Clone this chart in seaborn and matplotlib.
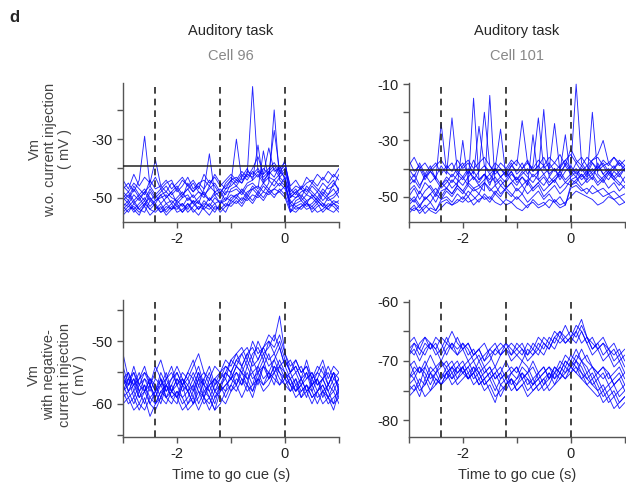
import numpy as np
import pandas as pd
import matplotlib
matplotlib.use("Agg")
import matplotlib.pyplot as plt
import seaborn as sns

sns.set_style("ticks")
plt.rcParams['font.family'] = ['Liberation Sans', 'DejaVu Sans']
plt.rcParams['axes.unicode_minus'] = False

# time axis of every trace (s, relative to go cue)
time = np.round(np.linspace(-3.0, 1.0, 41), 2)
events = [-2.4, -1.2, 0.0]

# Cell 96, no current injection (mV)
cell96_free = [
    [-52, -53, -51, -54, -52, -50, -53, -54, -52, -51,
     -53, -52, -54, -51, -52, -53, -50, -52, -51, -53,
     -50, -49, -51, -48, -47, -49, -46, -48, -47, -45,
     -47, -53, -52, -51, -53, -52, -50, -52, -53, -51, -52],
    [-47, -45, -48, -44, -29, -46, -43, -47, -45, -44,
     -48, -46, -43, -47, -45, -44, -46, -42, -45, -47,
     -44, -43, -45, -41, -42, -40, -43, -41, -39, -42,
     -40, -48, -46, -47, -45, -44, -46, -43, -45, -42, -44],
    [-50, -48, -51, -49, -47, -50, -52, -49, -48, -50,
     -51, -49, -47, -50, -48, -49, -51, -48, -50, -47,
     -46, -44, -45, -42, -12, -41, -44, -42, -40, -43,
     -41, -49, -50, -48, -47, -49, -51, -48, -50, -49, -47],
    [-54, -52, -55, -53, -51, -54, -52, -55, -53, -54,
     -52, -55, -53, -51, -54, -52, -53, -55, -52, -50,
     -51, -49, -48, -50, -47, -46, -48, -45, -20, -44,
     -46, -51, -53, -52, -54, -53, -51, -53, -54, -52, -53],
    [-49, -51, -47, -50, -48, -46, -49, -47, -50, -48,
     -46, -49, -47, -45, -48, -50, -46, -48, -47, -49,
     -45, -30, -44, -42, -43, -41, -42, -33, -41, -40,
     -38, -47, -49, -46, -48, -45, -47, -49, -46, -44, -48],
    [-55, -53, -54, -56, -52, -54, -55, -53, -56, -54,
     -53, -55, -52, -54, -56, -53, -54, -52, -55, -53,
     -52, -50, -52, -49, -51, -48, -50, -47, -49, -48,
     -46, -52, -54, -53, -51, -55, -53, -52, -54, -55, -53],
    [-51, -49, -52, -50, -53, -48, -51, -50, -49, -52,
     -50, -48, -51, -49, -52, -47, -35, -49, -48, -51,
     -47, -46, -48, -45, -44, -32, -45, -43, -44, -42,
     -37, -50, -48, -51, -49, -50, -48, -51, -49, -47, -50],
    [-46, -48, -45, -47, -49, -44, -47, -46, -48, -45,
     -47, -44, -46, -48, -45, -47, -44, -46, -49, -45,
     -43, -45, -42, -44, -41, -43, -40, -42, -27, -41,
     -43, -50, -48, -47, -49, -46, -48, -45, -47, -46, -42],
    [-53, -51, -54, -52, -50, -53, -51, -49, -52, -54,
     -51, -53, -50, -52, -54, -51, -53, -50, -52, -51,
     -49, -50, -47, -49, -46, -48, -45, -47, -44, -46,
     -43, -55, -51, -50, -52, -49, -51, -53, -50, -52, -51],
    [-44, -47, -42, -46, -43, -45, -37, -46, -44, -47,
     -45, -43, -46, -44, -47, -42, -45, -43, -46, -44,
     -42, -44, -41, -43, -40, -36, -42, -40, -38, -41,
     -39, -46, -44, -47, -43, -45, -42, -44, -41, -43, -40],
    [-56, -54, -53, -55, -53, -56, -54, -52, -55, -53,
     -54, -52, -55, -53, -51, -54, -56, -53, -54, -52,
     -53, -51, -53, -50, -52, -49, -51, -48, -50, -47,
     -49, -54, -55, -53, -52, -54, -52, -55, -53, -52, -54],
    [-50, -52, -49, -51, -48, -51, -49, -52, -50, -48,
     -52, -50, -49, -52, -50, -48, -51, -49, -52, -48,
     -48, -47, -49, -46, -45, -47, -34, -44, -46, -43,
     -45, -52, -50, -49, -51, -50, -52, -49, -51, -50, -48],
    [-48, -50, -46, -49, -51, -47, -50, -48, -46, -49,
     -47, -50, -45, -48, -46, -49, -47, -45, -48, -46,
     -44, -46, -43, -40, -44, -42, -45, -41, -43, -39,
     -44, -49, -47, -50, -46, -48, -50, -47, -49, -45, -47],
    [-53, -55, -52, -54, -55, -51, -53, -55, -54, -52,
     -55, -54, -52, -55, -53, -54, -52, -54, -53, -55,
     -51, -52, -50, -51, -49, -50, -48, -49, -47, -48,
     -50, -55, -53, -54, -52, -53, -55, -54, -52, -53, -55],
]

# Cell 101, no current injection (mV)
cell101_free = [
    [-54, -55, -53, -56, -54, -55, -52, -51, -53, -52,
     -50, -52, -51, -49, -51, -50, -52, -53, -51, -52,
     -50, -52, -54, -51, -53, -52, -54, -51, -53, -52,
     -50, -48, -49, -50, -51, -53, -52, -50, -51, -53, -52],
    [-40, -43, -38, -42, -39, -44, -24, -41, -43, -40,
     -38, -42, -37, -41, -20, -39, -42, -40, -43, -39,
     -41, -38, -42, -39, -22, -40, -38, -41, -39, -37,
     -40, -10, -38, -41, -37, -36, -39, -38, -40, -37, -39],
    [-48, -46, -49, -45, -47, -50, -46, -44, -47, -45,
     -43, -46, -15, -44, -42, -45, -43, -46, -44, -41,
     -45, -43, -46, -28, -44, -42, -45, -43, -41, -44,
     -42, -40, -43, -41, -44, -38, -42, -40, -43, -41, -39],
    [-52, -50, -53, -51, -49, -52, -48, -47, -49, -46,
     -48, -45, -47, -46, -48, -14, -46, -44, -47, -45,
     -43, -46, -44, -47, -45, -43, -46, -44, -42, -45,
     -43, -41, -44, -42, -40, -43, -45, -42, -44, -46, -43],
    [-45, -42, -46, -43, -41, -44, -47, -45, -42, -44,
     -46, -43, -41, -44, -42, -46, -40, -43, -45, -42,
     -44, -41, -43, -45, -42, -19, -43, -40, -44, -41,
     -39, -42, -40, -43, -41, -39, -42, -44, -41, -43, -40],
    [-56, -54, -55, -53, -55, -56, -54, -52, -53, -51,
     -52, -50, -53, -51, -50, -52, -49, -51, -53, -52,
     -54, -55, -53, -52, -54, -53, -51, -52, -54, -53,
     -47, -46, -48, -47, -49, -48, -50, -49, -51, -50, -52],
    [-50, -47, -51, -48, -46, -49, -45, -47, -44, -46,
     -30, -45, -43, -46, -44, -42, -45, -43, -41, -44,
     -46, -43, -45, -42, -44, -46, -43, -45, -41, -28,
     -44, -45, -42, -44, -20, -42, -44, -41, -43, -45, -47],
    [-37, -41, -39, -43, -40, -38, -42, -39, -41, -37,
     -40, -38, -42, -25, -39, -41, -38, -40, -42, -39,
     -37, -40, -38, -41, -39, -36, -40, -38, -35, -39,
     -33, -37, -39, -36, -38, -40, -37, -39, -36, -38, -40],
    [-53, -51, -54, -50, -52, -49, -51, -48, -50, -47,
     -49, -46, -48, -47, -45, -48, -46, -49, -47, -45,
     -48, -46, -49, -47, -45, -48, -46, -44, -47, -45,
     -46, -44, -42, -45, -43, -46, -44, -47, -45, -48, -46],
    [-42, -45, -40, -44, -41, -43, -39, -42, -22, -41,
     -43, -40, -44, -41, -39, -42, -40, -43, -41, -38,
     -42, -40, -37, -41, -39, -42, -40, -24, -41, -39,
     -42, -38, -41, -39, -42, -40, -38, -41, -39, -42, -40],
    [-55, -53, -56, -54, -52, -55, -51, -50, -52, -49,
     -51, -48, -50, -52, -49, -51, -48, -50, -47, -49,
     -51, -49, -52, -50, -48, -51, -49, -52, -50, -53,
     -46, -45, -47, -49, -46, -48, -47, -49, -48, -50, -49],
    [-46, -44, -47, -42, -45, -43, -46, -43, -45, -42,
     -44, -41, -43, -45, -42, -44, -40, -26, -43, -41,
     -44, -42, -40, -43, -41, -39, -42, -40, -43, -38,
     -41, -43, -39, -42, -38, -41, -39, -42, -40, -38, -41],
    [-50, -52, -48, -51, -49, -47, -50, -47, -49, -46,
     -48, -50, -47, -49, -45, -47, -49, -46, -48, -50,
     -47, -49, -45, -48, -46, -50, -48, -46, -49, -47,
     -44, -43, -46, -44, -42, -45, -43, -41, -44, -42, -45],
    [-39, -36, -40, -38, -41, -39, -37, -40, -38, -42,
     -39, -37, -40, -38, -36, -39, -41, -38, -40, -37,
     -39, -23, -38, -40, -37, -39, -36, -38, -40, -37,
     -35, -38, -36, -39, -37, -35, -30, -38, -36, -39, -37],
]

# Cell 96, negative current injection (mV)
cell96_neg = [
    [-54, -57, -55, -58, -56, -57, -59, -56, -58, -57,
     -55, -57, -56, -58, -55, -57, -59, -57, -56, -54,
     -55, -53, -54, -52, -54, -53, -51, -53, -52, -54,
     -53, -55, -54, -56, -55, -57, -56, -54, -57, -55, -56],
    [-57, -59, -58, -60, -61, -59, -58, -60, -57, -59,
     -58, -60, -59, -57, -60, -58, -59, -61, -58, -57,
     -56, -55, -57, -54, -56, -55, -53, -56, -54, -55,
     -57, -58, -56, -59, -57, -58, -60, -58, -59, -61, -58],
    [-56, -55, -57, -56, -54, -57, -55, -53, -56, -54,
     -57, -55, -56, -54, -52, -55, -56, -54, -55, -53,
     -54, -52, -51, -53, -50, -52, -51, -49, -50, -46,
     -52, -54, -53, -55, -54, -56, -55, -53, -56, -54, -55],
    [-58, -60, -59, -61, -59, -62, -60, -58, -59, -60,
     -58, -59, -61, -60, -58, -60, -59, -61, -60, -58,
     -57, -58, -56, -57, -59, -56, -57, -55, -56, -57,
     -55, -57, -58, -56, -58, -57, -59, -58, -60, -59, -58],
    [-52, -56, -55, -57, -56, -58, -56, -57, -55, -58,
     -56, -57, -55, -53, -56, -55, -57, -56, -55, -56,
     -53, -54, -52, -51, -53, -50, -52, -51, -49, -51,
     -54, -53, -55, -54, -56, -55, -57, -56, -55, -57, -56],
    [-59, -58, -60, -58, -57, -59, -60, -58, -57, -59,
     -60, -57, -58, -60, -59, -56, -58, -60, -57, -59,
     -57, -55, -56, -58, -57, -54, -56, -55, -53, -55,
     -56, -58, -57, -59, -58, -60, -58, -57, -59, -60, -59],
    [-56, -58, -57, -55, -58, -56, -57, -59, -56, -55,
     -57, -56, -58, -57, -55, -58, -57, -56, -58, -55,
     -56, -54, -55, -53, -55, -54, -52, -54, -53, -51,
     -54, -56, -55, -57, -56, -55, -57, -56, -58, -56, -57],
    [-57, -56, -59, -57, -58, -56, -58, -57, -59, -58,
     -56, -58, -57, -59, -56, -57, -58, -56, -57, -58,
     -55, -57, -54, -56, -55, -57, -54, -56, -55, -54,
     -56, -55, -57, -56, -58, -57, -56, -58, -57, -55, -58],
    [-55, -58, -56, -59, -57, -60, -58, -56, -59, -57,
     -59, -56, -58, -60, -57, -59, -56, -58, -57, -55,
     -56, -54, -55, -57, -53, -55, -54, -52, -55, -53,
     -55, -57, -56, -58, -57, -59, -58, -56, -58, -60, -57],
    [-58, -57, -56, -58, -60, -57, -59, -57, -56, -58,
     -59, -57, -60, -58, -56, -59, -61, -59, -57, -56,
     -58, -56, -57, -55, -57, -56, -54, -55, -57, -54,
     -55, -56, -58, -57, -55, -58, -56, -59, -57, -58, -56],
    [-57, -55, -58, -56, -55, -57, -54, -56, -58, -56,
     -55, -57, -55, -56, -54, -57, -55, -58, -56, -55,
     -53, -52, -54, -52, -51, -53, -51, -50, -52, -50,
     -53, -55, -54, -56, -53, -56, -54, -55, -57, -55, -58],
    [-60, -59, -61, -60, -58, -60, -61, -59, -60, -58,
     -59, -61, -60, -59, -61, -59, -60, -58, -59, -60,
     -58, -57, -59, -57, -58, -56, -58, -57, -55, -57,
     -56, -57, -59, -58, -57, -59, -58, -60, -59, -58, -60],
    [-56, -57, -54, -57, -55, -56, -58, -55, -57, -56,
     -54, -56, -57, -55, -57, -56, -54, -57, -55, -54,
     -55, -53, -52, -54, -52, -51, -53, -50, -51, -49,
     -52, -55, -53, -55, -54, -57, -55, -56, -54, -56, -55],
    [-58, -56, -57, -59, -58, -57, -60, -59, -57, -58,
     -57, -59, -58, -56, -58, -59, -57, -59, -58, -57,
     -56, -57, -55, -56, -58, -55, -57, -56, -54, -56,
     -57, -56, -58, -57, -59, -56, -58, -57, -59, -57, -59],
]

# Cell 101, negative current injection (mV)
cell101_neg = [
    [-68, -67, -69, -67, -68, -66, -67, -69, -67, -68,
     -67, -69, -68, -70, -69, -68, -67, -69, -68, -67,
     -68, -69, -67, -68, -69, -67, -68, -66, -67, -66,
     -65, -66, -64, -66, -67, -68, -67, -69, -68, -70, -69],
    [-69, -68, -70, -68, -67, -69, -68, -66, -68, -69,
     -67, -68, -70, -69, -71, -70, -68, -69, -67, -68,
     -69, -70, -68, -69, -67, -68, -66, -67, -65, -66,
     -67, -65, -63, -66, -68, -67, -69, -68, -70, -69, -71],
    [-73, -72, -74, -71, -73, -72, -74, -72, -71, -73,
     -72, -71, -73, -72, -74, -73, -75, -73, -72, -74,
     -73, -72, -74, -73, -75, -74, -72, -73, -71, -72,
     -70, -71, -72, -74, -73, -75, -74, -76, -75, -77, -76],
    [-75, -74, -76, -73, -75, -74, -72, -73, -71, -72,
     -71, -73, -72, -74, -73, -75, -77, -74, -73, -75,
     -74, -73, -75, -74, -73, -75, -74, -72, -73, -71,
     -72, -70, -71, -73, -74, -75, -77, -76, -78, -77, -76],
    [-71, -70, -72, -71, -69, -71, -70, -72, -71, -70,
     -72, -71, -70, -72, -71, -73, -72, -71, -73, -72,
     -71, -73, -72, -71, -73, -72, -71, -72, -70, -71,
     -69, -70, -68, -70, -71, -72, -71, -73, -72, -71, -73],
    [-74, -75, -73, -74, -72, -73, -74, -72, -73, -71,
     -72, -73, -71, -72, -74, -73, -72, -74, -75, -73,
     -74, -72, -73, -75, -74, -73, -72, -74, -73, -72,
     -71, -72, -73, -72, -74, -73, -75, -74, -76, -75, -74],
    [-67, -66, -68, -66, -67, -68, -66, -67, -65, -67,
     -68, -67, -69, -68, -67, -69, -68, -67, -68, -69,
     -67, -68, -69, -67, -68, -66, -67, -65, -66, -64,
     -66, -65, -67, -66, -68, -67, -66, -68, -67, -69, -68],
    [-72, -73, -71, -72, -74, -72, -71, -70, -72, -71,
     -70, -72, -71, -73, -72, -71, -73, -72, -70, -72,
     -73, -71, -72, -74, -73, -72, -71, -73, -72, -70,
     -71, -69, -70, -72, -71, -73, -72, -74, -73, -72, -74],
    [-68, -69, -67, -66, -68, -67, -69, -67, -68, -66,
     -68, -67, -69, -68, -70, -68, -69, -68, -67, -69,
     -68, -67, -69, -68, -66, -67, -68, -66, -65, -67,
     -66, -64, -65, -67, -66, -68, -67, -68, -69, -68, -70],
    [-74, -73, -75, -74, -72, -74, -73, -72, -74, -73,
     -71, -73, -72, -74, -73, -72, -74, -76, -74, -73,
     -75, -74, -73, -74, -72, -74, -73, -71, -72, -73,
     -71, -70, -72, -73, -72, -74, -76, -75, -74, -76, -75],
    [-70, -72, -71, -73, -71, -72, -70, -71, -73, -72,
     -71, -70, -72, -71, -73, -72, -71, -73, -72, -71,
     -72, -70, -71, -73, -72, -71, -73, -71, -72, -70,
     -71, -72, -70, -71, -73, -72, -71, -72, -74, -73, -72],
    [-76, -75, -74, -76, -75, -73, -74, -73, -72, -74,
     -73, -72, -74, -73, -75, -74, -76, -75, -74, -73,
     -75, -74, -76, -75, -74, -73, -75, -74, -72, -73,
     -72, -71, -73, -74, -75, -76, -75, -77, -76, -78, -77],
    [-69, -67, -68, -69, -67, -68, -70, -68, -67, -69,
     -68, -70, -69, -68, -70, -69, -71, -69, -68, -70,
     -69, -68, -70, -69, -68, -69, -67, -68, -66, -67,
     -66, -67, -65, -67, -69, -68, -70, -69, -71, -70, -72],
    [-73, -71, -72, -70, -72, -71, -73, -71, -70, -72,
     -71, -73, -72, -70, -72, -71, -73, -72, -74, -72,
     -71, -73, -72, -70, -72, -71, -73, -72, -71, -69,
     -70, -68, -70, -69, -71, -72, -73, -72, -74, -73, -75],
]

thresh_96 = -39
thresh_101 = -40.5


def to_long(traces):
    rows = []
    for i, tr in enumerate(traces):
        for t, v in zip(time, tr):
            rows.append((i, t, v))
    return pd.DataFrame(rows, columns=["trial", "t", "vm"])


fig = plt.figure(figsize=(6.26, 4.9), dpi=100)
w, h = 0.345, 0.283
boxes = [
    [0.1965, 0.547, w, h], [0.653, 0.547, w, h],
    [0.1965, 0.108, w, 0.279], [0.653, 0.108, w, 0.279],
]
panels = [
    (cell96_free, (-58.3, -10.9), [-50, -30], [-40, -20], thresh_96),
    (cell101_free, (-59, -9.7), [-50, -30, -10], [-40, -20], thresh_101),
    (cell96_neg, (-65.3, -43.5), [-60, -50], [-65, -55, -45], None),
    (cell101_neg, (-82.8, -59.8), [-80, -70, -60], [-75, -65], None),
]
axes = []
for box, (traces, ylim, majors, minors, th) in zip(boxes, panels):
    ax = fig.add_axes(box)
    df = to_long(traces)
    sns.lineplot(data=df, x="t", y="vm", units="trial", estimator=None,
                 color=(0, 0, 1), lw=0.65, alpha=0.85, ax=ax, legend=False)
    for e in events:
        ax.axvline(e, color="#222222", ls=(0, (4, 3)), lw=1.2, zorder=3)
    if th is not None:
        ax.axhline(th, color="#222222", lw=1.1, zorder=3)
    ax.set_xlim(-3, 1)
    ax.set_ylim(*ylim)
    ax.set_xticks([-2, 0])
    ax.set_xticks([-3, -1, 1], minor=True)
    ax.set_yticks(majors)
    ax.set_yticks(minors, minor=True)
    ax.tick_params(which="both", direction="out", length=4, width=1,
                   colors="#555555", labelcolor="#222222", labelsize=10.5)
    ax.set_xlabel("")
    ax.set_ylabel("")
    sns.despine(ax=ax)
    for s in ["left", "bottom"]:
        ax.spines[s].set_color("#555555")
        ax.spines[s].set_linewidth(1)
    axes.append(ax)

for ax in axes[2:]:
    ax.set_xlabel("Time to go cue (s)", fontsize=10.5, color="#333333", labelpad=5)

fig.text(0.015, 0.965, "d", fontsize=12, fontweight="bold", va="center")
for cx, cell in [(0.369, "Cell 96"), (0.8255, "Cell 101")]:
    fig.text(cx, 0.937, "Auditory task", fontsize=10.5, ha="center", va="center")
    fig.text(cx, 0.886, cell, fontsize=10.5, ha="center", va="center", color="#888888")

fig.text(0.08, 0.695, "Vm\nw.o. current injection\n( mV )", rotation=90,
         ha="center", va="center", fontsize=10.5, color="#444444", linespacing=1.1)
fig.text(0.091, 0.235, "Vm\nwith negative-\ncurrent injection\n( mV )", rotation=90,
         ha="center", va="center", fontsize=10.5, color="#444444", linespacing=1.1)

fig.savefig("out.png", dpi=100)
